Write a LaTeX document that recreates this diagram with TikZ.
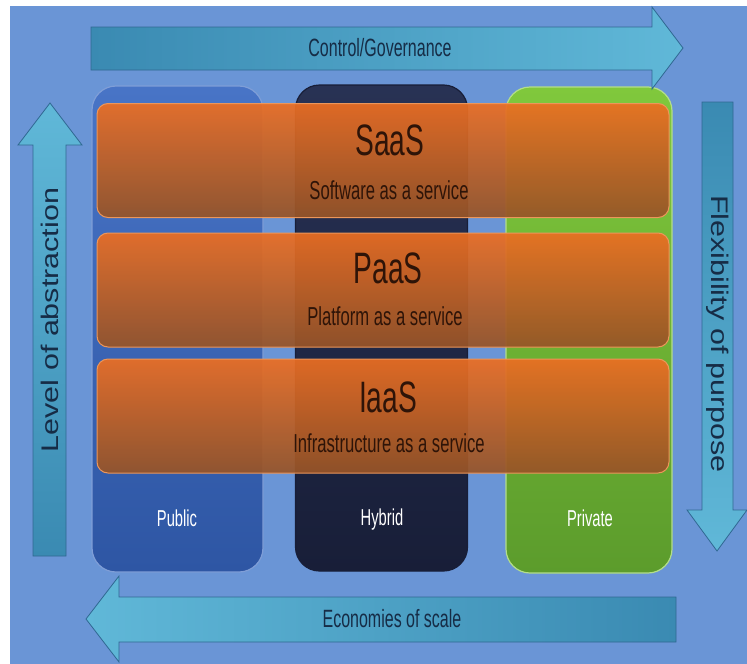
\documentclass[tikz,border=0pt]{standalone}
\usepackage{fontspec}
\setmainfont{Liberation Sans}
\newfontfamily\narrowsf{Liberation Sans}[FakeStretch=0.64]
\newfontfamily\widesf{Liberation Sans}[FakeStretch=1.27]
\definecolor{panelblue}{RGB}{106,149,214}
\definecolor{flowdark}{RGB}{58,138,178}
\definecolor{flowlight}{RGB}{96,184,216}
\definecolor{flowedge}{RGB}{48,104,146}
\definecolor{flowtext}{RGB}{22,44,70}
\definecolor{pubtop}{RGB}{72,116,198}
\definecolor{pubbot}{RGB}{46,86,164}
\definecolor{hybtop}{RGB}{40,50,84}
\definecolor{hybbot}{RGB}{24,30,56}
\definecolor{privtop}{RGB}{128,200,60}
\definecolor{privbot}{RGB}{92,156,44}
\definecolor{tiertop}{RGB}{236,110,34}
\definecolor{tierbot}{RGB}{150,84,40}
\definecolor{tieredge}{RGB}{236,150,90}
\definecolor{tiertext}{RGB}{46,20,8}
\tikzset{%
    flow/.style={draw=flowedge, line width=0.8pt},
    colbox/.style={rectangle, rounded corners=24pt, inner sep=0pt, line width=1.2pt, minimum height=486pt},
    tier/.style={rectangle, rounded corners=11pt, inner sep=0pt, minimum width=572pt, minimum height=114pt, top color=tiertop, bottom color=tierbot, fill opacity=0.93, draw=tieredge, line width=1pt},
    ttl/.style={font=\narrowsf\fontsize{44}{48}\selectfont, text=tiertext},
    subt/.style={font=\narrowsf\fontsize{26}{30}\selectfont, text=tiertext},
    clab/.style={font=\narrowsf\fontsize{23}{27}\selectfont, text=white},
    alab/.style={font=\narrowsf\fontsize{25}{29}\selectfont, text=flowtext},
    vlab/.style={font=\widesf\fontsize{24}{28}\selectfont, text=flowtext},
}
\begin{document}
\begin{tikzpicture}[x=1pt, y=-1pt]
    \useasboundingbox (0,0) rectangle (747,664);
    \fill [panelblue] (10,6) rectangle (747,664);
    % deployment columns
    \node (pub) [colbox, minimum width=171pt, top color=pubtop, bottom color=pubbot, draw=pubtop!70!white] at (177.5,329) {};
    \node (hyb) [colbox, minimum width=172pt, top color=hybtop, bottom color=hybbot, draw=hybbot] at (381.5,328) {};
    \node (priv) [colbox, minimum width=166pt, top color=privtop, bottom color=privbot, draw=privtop!60!white] at (589,330) {};
    \node (publ) [clab] at (177,518) {Public};
    \node (hybl) [clab] at (382,520) {Hybrid};
    \node (privl) [clab] at (590,518) {Private};
    % service tiers
    \node (saas) [tier] at (383,160.5) {};
    \node (paas) [tier] at (383,290) {};
    \node (iaas) [tier] at (383,416) {};
    \node (saast) [ttl] at (390,140) {SaaS};
    \node (saass) [subt] at (389,190) {Software as a service};
    \node (paast) [ttl] at (388,268) {PaaS};
    \node (paass) [subt] at (385,316) {Platform as a service};
    \node (iaast) [ttl] at (388,397) {IaaS};
    \node (iaass) [subt] at (389,443) {Infrastructure as a service};
    % axis arrows
    \draw [flow, left color=flowdark, right color=flowlight] (91,27) -- (652,27) -- (652,7) -- (683,48) -- (652,89) -- (652,70) -- (91,70) -- cycle;
    \draw [flow, left color=flowlight, right color=flowdark] (676,597) -- (119,597) -- (119,576) -- (86,619) -- (119,662) -- (119,642) -- (676,642) -- cycle;
    \draw [flow, top color=flowlight, bottom color=flowdark] (33,556) -- (33,145) -- (18,145) -- (50,103) -- (82,145) -- (66,145) -- (66,556) -- cycle;
    \draw [flow, top color=flowdark, bottom color=flowlight] (702,102) -- (733,102) -- (733,510) -- (747,510) -- (717,551) -- (687,510) -- (702,510) -- cycle;
    \node (ctrl) [alab] at (380,48) {Control/Governance};
    \node (econ) [alab] at (392,619) {Economies of scale};
    \node (abst) [vlab, rotate=90] at (50,320) {Level of abstraction};
    \node (flex) [vlab, rotate=-90] at (718,334) {Flexibility of purpose};
\end{tikzpicture}
\end{document}
